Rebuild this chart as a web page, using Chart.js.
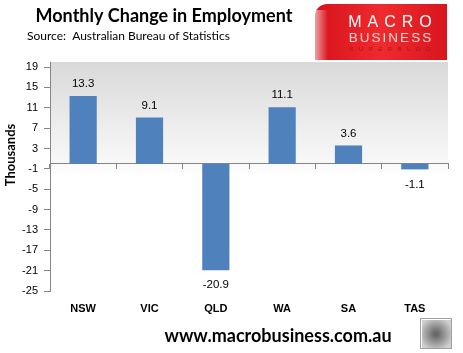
<!DOCTYPE html>
<html>
<head>
<meta charset="utf-8">
<script src="https://cdn.jsdelivr.net/npm/chart.js@4.4.0/dist/chart.umd.min.js"></script>
<style>
  html, body { margin: 0; padding: 0; background: #fff; }
  #wrap { width: 463px; height: 353px; }
</style>
</head>
<body>
<div id="wrap"><canvas id="c" width="463" height="353"></canvas></div>
<script>
const states = ['NSW', 'VIC', 'QLD', 'WA', 'SA', 'TAS'];
const change = [13.3, 9.1, -20.9, 11.1, 3.6, -1.1];
const yTicks = [-25, -21, -17, -13, -9, -5, -1, 3, 7, 11, 15, 19];
const yMin = -25;
const yMax = 20;

const SANS = '"Liberation Sans", Arial, sans-serif';
const HUMAN = 'Lato, "Open Sans", sans-serif';
Chart.defaults.font.family = SANS;

// draw text with fixed gaps between letters, centred on cx
function spaced(ctx, text, cx, y, gap) {
  const chars = text.split('');
  const widths = chars.map(ch => ctx.measureText(ch).width);
  const total = widths.reduce((a, b) => a + b, 0) + gap * (chars.length - 1);
  let x = cx - total / 2;
  ctx.textAlign = 'left';
  chars.forEach((ch, i) => {
    ctx.fillText(ch, x, y);
    x += widths[i] + gap;
  });
}

const plotBg = {
  id: 'plotBg',
  beforeDraw(chart) {
    const { ctx, chartArea: a, scales } = chart;
    const yEnd = scales.y.getPixelForValue(0) + 12;
    const g = ctx.createLinearGradient(0, a.top, 0, yEnd);
    g.addColorStop(0, '#d9d9d9');
    g.addColorStop(0.88, '#f8f8f8');
    g.addColorStop(1, '#ffffff');
    ctx.save();
    ctx.fillStyle = g;
    ctx.fillRect(a.left, a.top, a.right - a.left, yEnd - a.top);
    ctx.restore();
  }
};

const barLabels = {
  id: 'barLabels',
  afterDatasetsDraw(chart) {
    const ctx = chart.ctx;
    const meta = chart.getDatasetMeta(0);
    ctx.save();
    ctx.font = '11.5px ' + SANS;
    ctx.fillStyle = '#000';
    ctx.textAlign = 'center';
    ctx.textBaseline = 'middle';
    meta.data.forEach((bar, i) => {
      const v = change[i];
      ctx.fillText(v.toFixed(1), bar.x, v >= 0 ? bar.y - 12 : bar.y + 15);
    });
    ctx.restore();
  }
};

const decor = {
  id: 'decor',
  afterDraw(chart) {
    const ctx = chart.ctx;
    ctx.save();
    ctx.fillStyle = '#000';
    ctx.textBaseline = 'alphabetic';

    // titles
    ctx.textAlign = 'center';
    ctx.font = 'bold 18px ' + HUMAN;
    ctx.fillText('Monthly Change in Employment', 164, 22);
    ctx.textAlign = 'left';
    ctx.font = '12px ' + HUMAN;
    ctx.fillText('Source:  Australian Bureau of Statistics', 27, 40);

    // y axis title
    ctx.save();
    ctx.translate(15, 155);
    ctx.rotate(-Math.PI / 2);
    ctx.textAlign = 'center';
    ctx.font = 'bold 13px ' + HUMAN;
    ctx.fillText('Thousands', 0, 0);
    ctx.restore();

    // footer
    ctx.textAlign = 'center';
    ctx.font = 'bold 18px ' + HUMAN;
    ctx.fillText('www.macrobusiness.com.au', 278, 342);

    // logo box
    const lg = ctx.createLinearGradient(315, 0, 447, 0);
    lg.addColorStop(0, '#d6121b');
    lg.addColorStop(0.5, '#ef2b2f');
    lg.addColorStop(1, '#d8161d');
    ctx.fillStyle = lg;
    ctx.beginPath();
    ctx.roundRect(315, 4, 132, 56, [12, 0, 0, 0]);
    ctx.fill();
    const wf = ctx.createLinearGradient(315, 0, 328, 0);
    wf.addColorStop(0, 'rgba(255,255,255,0.6)');
    wf.addColorStop(1, 'rgba(255,255,255,0)');
    ctx.fillStyle = wf;
    ctx.fillRect(315, 10, 13, 50);

    ctx.fillStyle = '#ffffff';
    ctx.font = '300 16px ' + SANS;
    spaced(ctx, 'MACRO', 390, 27, 6);
    ctx.fillStyle = '#f9d6d6';
    ctx.font = '13.5px ' + SANS;
    spaced(ctx, 'BUSINESS', 390, 42, 2);
    ctx.fillStyle = '#a8141a';
    ctx.font = '6px ' + SANS;
    spaced(ctx, 'SUPERBLOG', 390, 51, 5.5);

    // wolf badge
    ctx.strokeStyle = '#a0a0a0';
    ctx.lineWidth = 1;
    ctx.strokeRect(420.5, 318.5, 31, 30);
    const wg = ctx.createRadialGradient(436, 334, 2, 436, 334, 17);
    wg.addColorStop(0, '#6a6a6a');
    wg.addColorStop(1, '#cfcfcf');
    ctx.fillStyle = wg;
    ctx.fillRect(422, 320, 29, 28);
    ctx.restore();
  }
};

new Chart(document.getElementById('c'), {
  type: 'bar',
  data: {
    labels: states,
    datasets: [{
      data: change,
      backgroundColor: '#4f81bd',
      categoryPercentage: 0.82,
      barPercentage: 0.5,
      xAxisID: 'x',
      yAxisID: 'y'
    }]
  },
  options: {
    responsive: false,
    animation: false,
    devicePixelRatio: 1,
    layout: { padding: { left: 0, right: 15, top: 62, bottom: 32 } },
    plugins: {
      legend: { display: false },
      tooltip: { enabled: false }
    },
    scales: {
      y: {
        type: 'linear',
        position: 'left',
        min: yMin,
        max: yMax,
        afterBuildTicks: s => { s.ticks = yTicks.map(v => ({ value: v })); },
        afterFit: s => { s.width = 50; },
        grid: { drawOnChartArea: false, tickLength: 6, color: '#868686' },
        border: { color: '#868686' },
        ticks: { padding: 6, color: '#000', font: { size: 11 } }
      },
      x: {
        type: 'category',
        position: { y: 0 },
        offset: true,
        grid: { offset: true, drawOnChartArea: false, tickLength: 5, color: '#868686' },
        border: { color: '#868686' },
        ticks: { display: false }
      },
      x2: {
        type: 'category',
        position: 'bottom',
        offset: true,
        labels: states,
        grid: { display: false },
        border: { display: false },
        afterFit: s => { s.height = 30; },
        ticks: { padding: 3, color: '#000', font: { size: 11, weight: 'bold' } }
      }
    }
  },
  plugins: [plotBg, barLabels, decor]
});
</script>
</body>
</html>
